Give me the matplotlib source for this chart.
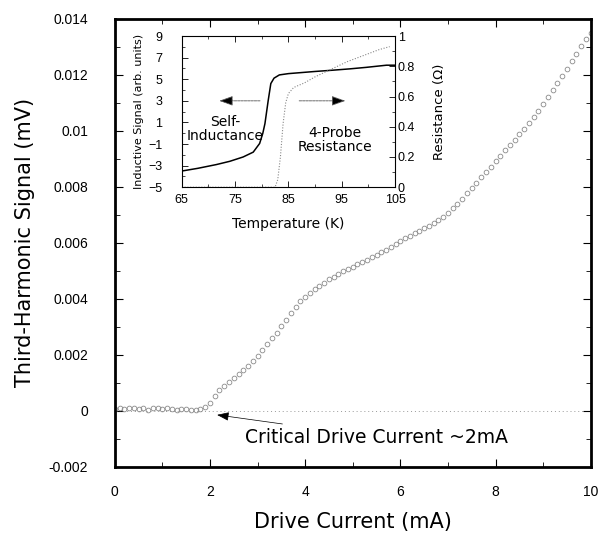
import matplotlib
matplotlib.use("Agg")
import numpy as np
import matplotlib.pyplot as plt
from matplotlib.ticker import MultipleLocator

# --- main data: third-harmonic signal vs drive current ---
current_ma = np.round(np.arange(0, 101) * 0.1, 1)
signal_e3 = [
    0.08, 0.11, 0.06, 0.09, 0.12, 0.07, 0.10, 0.05, 0.09, 0.11,
    0.06, 0.10, 0.08, 0.04, 0.07, 0.06, 0.03, 0.05, 0.08, 0.15,
    0.30, 0.52, 0.75, 0.90, 1.05, 1.18, 1.32, 1.47, 1.62, 1.79,
    1.98, 2.18, 2.39, 2.60, 2.80, 3.02, 3.25, 3.48, 3.72, 3.93,
    4.08, 4.22, 4.35, 4.47, 4.58, 4.70, 4.80, 4.90, 4.98, 5.07,
    5.15, 5.24, 5.32, 5.40, 5.48, 5.57, 5.66, 5.76, 5.86, 5.96,
    6.06, 6.16, 6.26, 6.35, 6.44, 6.53, 6.62, 6.71, 6.80, 6.92,
    7.07, 7.23, 7.40, 7.58, 7.77, 7.96, 8.15, 8.34, 8.53, 8.72,
    8.92, 9.12, 9.31, 9.50, 9.69, 9.88, 10.08, 10.28, 10.49, 10.72,
    10.96, 11.20, 11.45, 11.70, 11.96, 12.22, 12.48, 12.76, 13.02, 13.28,
    13.50,
]
signal_mv = np.array(signal_e3) * 1e-3

# --- inset data ---
temp_ind = [65, 68, 71.5, 74, 76.5, 78.4, 79.6, 80.2, 80.6, 81.2, 81.7,
            82.3, 83.3, 85, 87, 90, 93.4, 96.5, 99.6, 103.4, 105]
induct = [-3.5, -3.25, -2.9, -2.6, -2.2, -1.75, -0.95, 0.0, 0.9, 3.0, 4.6,
          5.1, 5.4, 5.52, 5.6, 5.72, 5.84, 5.96, 6.1, 6.3, 6.3]
temp_res = [65, 82.5, 83, 83.5, 84, 84.5, 85, 86, 88, 90, 93, 96, 99, 102, 104]
resist = [0, 0, 0.05, 0.2, 0.42, 0.56, 0.62, 0.66, 0.69, 0.73, 0.78, 0.83,
          0.87, 0.91, 0.93]
temp_ticks = [65, 75, 85, 95, 105]
induct_ticks = [-5, -3, -1, 1, 3, 5, 7, 9]

TICKFONT = "Liberation Sans"

fig = plt.figure(figsize=(6.04, 5.38), dpi=100)
ax = fig.add_axes([0.190, 0.132, 0.788, 0.833])

ax.axhline(0, color="#999999", lw=0.7, ls=(0, (1, 3)), zorder=1)
ax.plot(current_ma, signal_mv, ls="none", marker="o", ms=3.4,
        mfc="none", mec="#8a8a8a", mew=0.6, zorder=2)

ax.set_xlim(0, 10)
ax.set_ylim(-0.002, 0.014)
ax.xaxis.set_major_locator(MultipleLocator(2))
ax.xaxis.set_minor_locator(MultipleLocator(1))
ax.yaxis.set_major_locator(MultipleLocator(0.002))
ax.yaxis.set_minor_locator(MultipleLocator(0.001))
ax.set_xticklabels([f"{v:g}" for v in ax.get_xticks()])
ax.set_yticklabels([f"{v:g}" for v in ax.get_yticks()])
ax.tick_params(which="both", direction="in", top=True, right=True,
               labelsize=10)
ax.tick_params(axis="x", pad=13)
ax.tick_params(axis="y", pad=19)
ax.tick_params(which="major", length=6, width=0.8)
ax.tick_params(which="minor", length=3.5, width=0.6)
for lab in ax.get_xticklabels() + ax.get_yticklabels():
    lab.set_family(TICKFONT)
for sp in ax.spines.values():
    sp.set_linewidth(2.0)

ax.set_xlabel("Drive Current (mA)", fontsize=15, labelpad=9)
ax.set_ylabel("Third-Harmonic Signal (mV)", fontsize=15, labelpad=10)

ax.annotate("Critical Drive Current ~2mA", xy=(2.15, -0.00014),
            xytext=(2.73, -0.00093), fontsize=13.5, va="center", ha="left",
            arrowprops=dict(arrowstyle="-|>,head_length=0.6,head_width=0.22",
                            mutation_scale=12, color="black", lw=0.5,
                            shrinkA=4, shrinkB=0))

# --- inset ---
ax_in = fig.add_axes([0.301, 0.652, 0.353, 0.281])
ax_in.plot(temp_ind, induct, color="black", lw=1.1)
ax_in.set_xlim(65, 105)
ax_in.set_ylim(-5, 9)
ax_in.set_xticks(temp_ticks)
ax_in.xaxis.set_minor_locator(MultipleLocator(5))
ax_in.set_yticks(induct_ticks)
ax_in.yaxis.set_minor_locator(MultipleLocator(1))
ax_in.tick_params(which="both", direction="in", top=True, labelsize=9)
ax_in.tick_params(axis="y", pad=14)
ax_in.tick_params(axis="x", pad=5)
ax_in.tick_params(which="major", length=4, width=0.6)
ax_in.tick_params(which="minor", length=2, width=0.5)
for sp in ax_in.spines.values():
    sp.set_linewidth(0.7)
ax_in.set_xlabel("Temperature (K)", fontsize=10, labelpad=8)
ax_in.set_ylabel("Inductive Signal (arb. units)", fontsize=8, labelpad=3)

ax_r = ax_in.twinx()
ax_r.plot(temp_res, resist, color="#888888", lw=0.8, ls=(0, (1, 1.5)))
ax_r.set_ylim(0, 1)
ax_r.yaxis.set_major_locator(MultipleLocator(0.2))
ax_r.yaxis.set_minor_locator(MultipleLocator(0.1))
ax_r.set_yticklabels([f"{v:g}" for v in ax_r.get_yticks()])
ax_r.tick_params(which="both", direction="in", labelsize=9, pad=2)
ax_r.tick_params(which="major", length=4, width=0.6)
ax_r.tick_params(which="minor", length=2, width=0.5)
ax_r.set_ylabel("Resistance (\u03a9)", fontsize=9.5, labelpad=13)
for a in (ax_in, ax_r):
    for lab in a.get_xticklabels() + a.get_yticklabels():
        lab.set_family(TICKFONT)

arrow_kw = dict(arrowstyle="-|>,head_length=0.7,head_width=0.25",
                mutation_scale=12, color="#555555", lw=0.6, ls=(0, (3, 1)))
ax_in.annotate("", xy=(71.5, 3.0), xytext=(80.2, 3.0),
               arrowprops=dict(arrow_kw, fc="black"))
ax_in.annotate("", xy=(96.2, 3.0), xytext=(86.5, 3.0),
               arrowprops=dict(arrow_kw, fc="black"))
ax_in.text(73.1, 0.4, "Self-\nInductance", fontsize=10, ha="center",
           va="center", linespacing=1.0)
ax_in.text(93.7, -0.6, "4-Probe\nResistance", fontsize=10, ha="center",
           va="center", linespacing=1.0)

fig.savefig("out.png", dpi=100)
